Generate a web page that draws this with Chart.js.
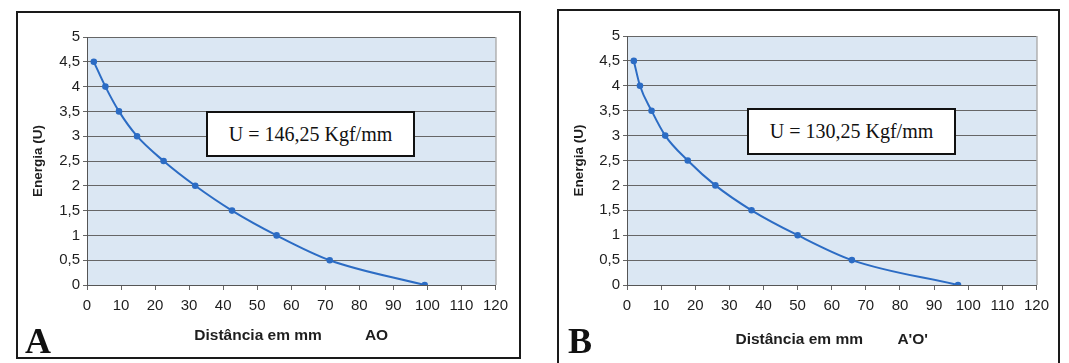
<!DOCTYPE html>
<html>
<head>
<meta charset="utf-8">
<script src="https://cdn.jsdelivr.net/npm/chart.js@4"></script>
<style>
    body { margin: 0; background: #fff; width: 1069px; height: 363px; position: relative; overflow: hidden; }
    .panel { position: absolute; border: 2px solid #1a1a1a; box-sizing: border-box; }
    .chart { position: absolute; }
    .note { position: absolute; border: 2px solid #111; background: #fff; font-family: "Liberation Serif", "Times New Roman", serif; font-size: 20px; color: #111; display: flex; align-items: center; justify-content: center; box-sizing: border-box; }
    .letter { position: absolute; font-family: "Liberation Serif", "Times New Roman", serif; font-weight: bold; font-size: 36px; color: #111; line-height: 1; }
</style>
</head>
<body>
<div class="panel" style="left:16px; top:11px; width:505px; height:348px;"></div>
<div class="panel" style="left:557px; top:9px; width:503px; height:356px;"></div>

<div class="chart" style="left:20px; top:14px; width:495px; height:340px;"><canvas id="chart-a"></canvas></div>
<div class="chart" style="left:561px; top:13px; width:495px; height:345px;"><canvas id="chart-b"></canvas></div>

<div class="note" style="left:206px; top:111px; width:209px; height:46px;">U = 146,25 Kgf/mm</div>
<div class="note" style="left:747px; top:108px; width:209px; height:47px;">U = 130,25 Kgf/mm</div>

<div class="letter" style="left:25px; top:323px;">A</div>
<div class="letter" style="left:568px; top:323px;">B</div>

<script>
// distance (mm) and energy (U)
const distA = [2.0, 5.4, 9.4, 14.7, 22.5, 31.8, 42.6, 55.7, 71.3, 99.2];
const energyA = [4.5, 4, 3.5, 3, 2.5, 2, 1.5, 1, 0.5, 0];
const distB = [2.0, 3.8, 7.2, 11.2, 17.8, 25.9, 36.5, 50.0, 65.9, 97.0];
const energyB = [4.5, 4, 3.5, 3, 2.5, 2, 1.5, 1, 0.5, 0];

const xTitleA = 'Distância em mm' + '\u00a0'.repeat(10) + 'AO';
const xTitleB = 'Distância em mm' + '\u00a0'.repeat(8) + "A'O'";
const yTitle = 'Energia (U)';

const lineColor = '#2c6cc4';
const gridColor = '#666';
const textColor = '#1e1e1e';

// light blue plot area plus a grey right edge
const plotBg = {
    id: 'plotBg',
    beforeDraw(chart) {
        const { ctx, chartArea: a } = chart;
        ctx.save();
        ctx.fillStyle = '#dbe7f3';
        ctx.fillRect(a.left, a.top, a.right - a.left, a.bottom - a.top);
        ctx.restore();
    },
    afterDraw(chart) {
        const { ctx, chartArea: a } = chart;
        ctx.save();
        ctx.strokeStyle = '#8a8a8a';
        ctx.lineWidth = 1;
        ctx.beginPath();
        ctx.moveTo(a.right + 0.5, a.top);
        ctx.lineTo(a.right + 0.5, a.bottom);
        ctx.stroke();
        ctx.restore();
    }
};

function makeChart(id, xs, ys, xTitle, yWidth, xHeight, padTop, padRight) {
    const points = xs.map((x, i) => ({ x, y: ys[i] }));
    return new Chart(document.getElementById(id), {
        type: 'scatter',
        data: {
            datasets: [{
                data: points,
                showLine: true,
                borderColor: lineColor,
                backgroundColor: lineColor,
                borderWidth: 2,
                pointRadius: 2.3,
                pointHoverRadius: 2.3,
                cubicInterpolationMode: 'monotone'
            }]
        },
        options: {
            responsive: true,
            maintainAspectRatio: false,
            animation: false,
            layout: { padding: { top: padTop, right: padRight, left: 0, bottom: 0 } },
            plugins: { legend: { display: false }, tooltip: { enabled: false } },
            scales: {
                x: {
                    type: 'linear', min: 0, max: 120,
                    afterFit: s => { s.height = xHeight; },
                    ticks: { stepSize: 10, color: textColor, padding: 7, maxRotation: 0,
                        font: { family: 'Liberation Sans, Arial', size: 15 } },
                    grid: { drawOnChartArea: false, drawTicks: true, tickLength: 5, color: gridColor },
                    border: { display: true, color: '#555', width: 1 },
                    title: { display: true, text: xTitle, color: textColor, padding: { top: 0, bottom: 9 },
                        font: { family: 'Liberation Sans, Arial', size: 15.5, weight: 'bold' } }
                },
                y: {
                    type: 'linear', min: 0, max: 5,
                    afterFit: s => { s.width = yWidth; },
                    ticks: { stepSize: 0.5, color: textColor, padding: 3,
                        callback: v => String(v).replace('.', ','),
                        font: { family: 'Liberation Sans, Arial', size: 15 } },
                    grid: { color: gridColor, lineWidth: 1, tickLength: 4 },
                    border: { display: true, color: '#555', width: 1 },
                    title: { display: true, text: yTitle, color: textColor, padding: { top: 10, bottom: 0 },
                        font: { family: 'Liberation Sans, Arial', size: 13.5, weight: 'bold' } }
                }
            }
        },
        plugins: [plotBg]
    });
}

makeChart('chart-a', distA, energyA, xTitleA, 67, 69, 23, 18);
makeChart('chart-b', distB, energyB, xTitleB, 66, 73, 23, 14);
</script>
</body>
</html>
